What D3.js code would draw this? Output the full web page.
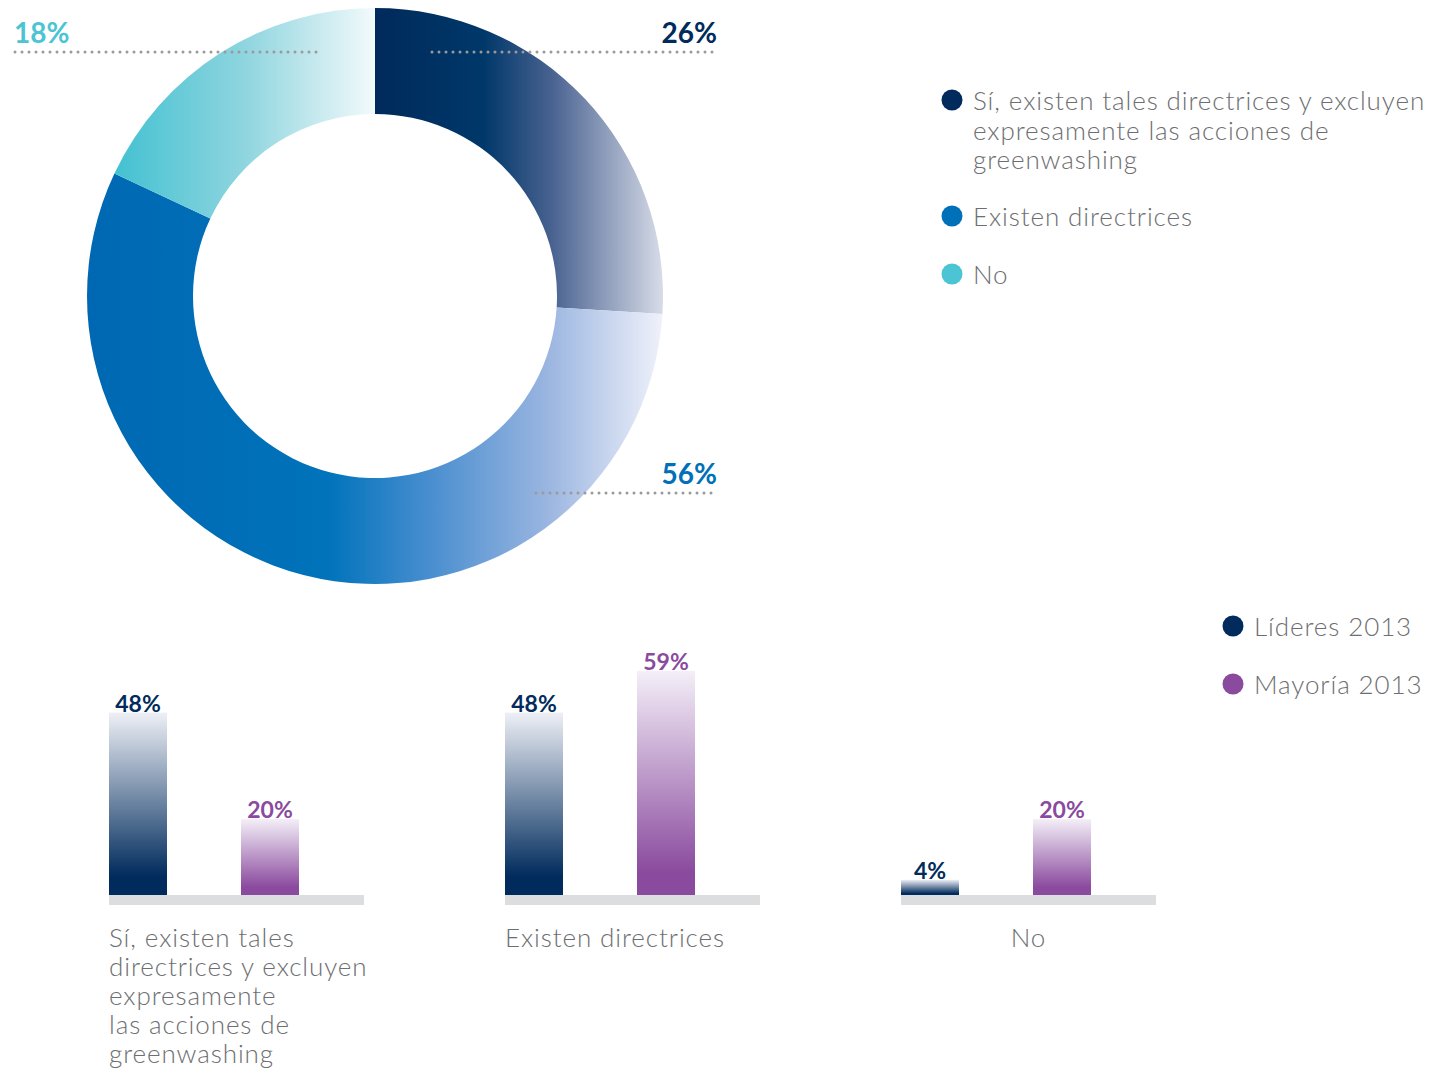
<!DOCTYPE html>
<html>
<head>
<meta charset="utf-8">
<script src="https://cdn.jsdelivr.net/npm/d3@7"></script>
<style>
  body { margin: 0; background: #fff; }
  svg { display: block; font-family: Lato, "Open Sans", sans-serif; }
</style>
</head>
<body>
<div id="chart"></div>
<script>
// donut data
const donutLabels = ["Sí, existen tales directrices y excluyen expresamente las acciones de greenwashing", "Existen directrices", "No"];
const donutLegendLines = [["Sí, existen tales directrices y excluyen", "expresamente las acciones de", "greenwashing"], ["Existen directrices"], ["No"]];
const donutValues = [26, 56, 18];

// bar data
const barCategories = ["Sí, existen tales directrices y excluyen expresamente las acciones de greenwashing", "Existen directrices", "No"];
const barCategoryLines = [["Sí, existen tales", "directrices y excluyen", "expresamente", "las acciones de", "greenwashing"], ["Existen directrices"], ["No"]];
const barSeries = ["Líderes 2013", "Mayoría 2013"];
const lideres = [48, 48, 4];
const mayoria = [20, 59, 20];

const W = 1450, H = 1071;
const grey = "#6d6e71";
const dotted = "#9a9a9a";

const svg = d3.select("#chart").append("svg")
  .attr("width", W)
  .attr("height", H);
const defs = svg.append("defs");

// ---- donut ----
const cx = 375, cy = 296, rOuter = 288, rInner = 182;

const sliceColors = ["#002b5c", "#0070b8", "#4bc4d4"];
// horizontal gradients, one per slice (x extents relative to donut centre)
const sliceGrads = [
  { id: "g0", x1: 0, x2: 287, stops: [[0, "#002a5b"], [0.38, "#00386a"], [0.62, "#4a6391"], [1, "#d6dbe7"]] },
  { id: "g1", x1: -288, x2: 287, stops: [[0, "#0068b2"], [0.42, "#0073bb"], [0.6, "#4a8fd0"], [0.8, "#9ab5e0"], [1, "#eff1fa"]] },
  { id: "g2", x1: -260, x2: 0, stops: [[0, "#43c1d1"], [0.5, "#8fd5df"], [1, "#f3fafb"]] }
];
sliceGrads.forEach(g => {
  const lg = defs.append("linearGradient")
    .attr("id", g.id)
    .attr("gradientUnits", "userSpaceOnUse")
    .attr("x1", g.x1).attr("x2", g.x2)
    .attr("y1", 0).attr("y2", 0);
  lg.selectAll("stop").data(g.stops).enter().append("stop")
    .attr("offset", d => d[0])
    .attr("stop-color", d => d[1]);
});

const pie = d3.pie().sort(null).value(d => d);
const arc = d3.arc().innerRadius(rInner).outerRadius(rOuter);

const donut = svg.append("g").attr("transform", `translate(${cx},${cy})`);
donut.selectAll("path")
  .data(pie(donutValues))
  .enter().append("path")
  .attr("d", arc)
  .attr("fill", (d, i) => `url(#${sliceGrads[i].id})`);

// percent labels with dotted leaders
const pctLabels = [
  { i: 0, x: 717, y: 43, anchor: "end", lx1: 432, lx2: 717, ly: 52 },
  { i: 1, x: 717, y: 484, anchor: "end", lx1: 536, lx2: 717, ly: 493 },
  { i: 2, x: 14, y: 43, anchor: "start", lx1: 15, lx2: 320, ly: 52 }
];
const labelColors = ["#002b5c", "#0070b8", "#4bc4d4"];
pctLabels.forEach(p => {
  svg.append("line")
    .attr("x1", p.lx1).attr("x2", p.lx2)
    .attr("y1", p.ly).attr("y2", p.ly)
    .attr("stroke", dotted)
    .attr("stroke-width", 3)
    .attr("stroke-linecap", "round")
    .attr("stroke-dasharray", "0,7");
  svg.append("text")
    .attr("x", p.x).attr("y", p.y)
    .attr("text-anchor", p.anchor)
    .attr("fill", labelColors[p.i])
    .attr("font-size", 28)
    .attr("font-weight", 700)
    .text(donutValues[p.i] + "%");
});

// donut legend
const legTop = svg.append("g");
const legY = [100, 216, 274];
donutLabels.forEach((lab, i) => {
  legTop.append("circle")
    .attr("cx", 952).attr("cy", legY[i]).attr("r", 10.5)
    .attr("fill", sliceColors[i]);
  const t = legTop.append("text")
    .attr("x", 973).attr("y", legY[i] + 10)
    .attr("fill", grey)
    .attr("font-size", 26)
    .attr("font-weight", 300)
    .attr("letter-spacing", 0.9);
  donutLegendLines[i].forEach((ln, j) => {
    t.append("tspan").attr("x", 973).attr("dy", j === 0 ? 0 : 29.5).text(ln);
  });
});

// ---- bars ----
const baseY = 895;
const groupX = d3.scaleBand()
  .domain(barCategories)
  .range([109, 1156 + 141])
  .paddingInner(0)
  .paddingOuter(0);
const groupW = 255;
const y = d3.scaleLinear().domain([0, 60]).range([baseY, baseY - 228]);

const seriesColor = { "Líderes 2013": ["#002b5c", "#eef0f6"], "Mayoría 2013": ["#8a4a9e", "#f4eff8"] };
barSeries.forEach((s, k) => {
  const lg = defs.append("linearGradient")
    .attr("id", "bg" + k)
    .attr("x1", 0).attr("x2", 0).attr("y1", 1).attr("y2", 0);
  lg.append("stop").attr("offset", 0).attr("stop-color", seriesColor[s][0]);
  lg.append("stop").attr("offset", 0.1).attr("stop-color", seriesColor[s][0]);
  lg.append("stop").attr("offset", 1).attr("stop-color", seriesColor[s][1]);
});

const inner = d3.scaleBand().domain(barSeries).range([0, 264]).paddingInner(0).paddingOuter(0);
const barW = 58;

const groups = svg.selectAll(".grp")
  .data(barCategories)
  .enter().append("g")
  .attr("class", "grp")
  .attr("transform", d => `translate(${groupX(d)},0)`);

// grey baseline strip
groups.append("rect")
  .attr("x", 0).attr("y", baseY)
  .attr("width", groupW).attr("height", 10)
  .attr("fill", "#dcdddf");

const seriesVals = [lideres, mayoria];
const labCol = ["#002b5c", "#8a4a9e"];
barSeries.forEach((s, k) => {
  groups.append("rect")
    .attr("x", inner(s))
    .attr("y", (d, i) => y(seriesVals[k][i]))
    .attr("width", barW)
    .attr("height", (d, i) => baseY - y(seriesVals[k][i]))
    .attr("fill", `url(#bg${k})`);
  groups.append("text")
    .attr("x", inner(s) + barW / 2)
    .attr("y", (d, i) => y(seriesVals[k][i]) - 1)
    .attr("text-anchor", "middle")
    .attr("fill", labCol[k])
    .attr("font-size", 23)
    .attr("font-weight", 700)
    .text((d, i) => seriesVals[k][i] + "%");
});

// category labels
groups.each(function (d, i) {
  const last = i === barCategories.length - 1;
  const t = d3.select(this).append("text")
    .attr("x", last ? groupW / 2 : 0)
    .attr("y", 947)
    .attr("text-anchor", last ? "middle" : "start")
    .attr("fill", grey)
    .attr("font-size", 26)
    .attr("font-weight", 300)
    .attr("letter-spacing", 0.9);
  barCategoryLines[i].forEach((ln, j) => {
    t.append("tspan").attr("x", last ? groupW / 2 : 0).attr("dy", j === 0 ? 0 : 29).text(ln);
  });
});

// bar legend
const legY2 = [626, 684];
barSeries.forEach((s, k) => {
  svg.append("circle")
    .attr("cx", 1233).attr("cy", legY2[k]).attr("r", 10.5)
    .attr("fill", seriesColor[s][0]);
  svg.append("text")
    .attr("x", 1254).attr("y", legY2[k] + 10)
    .attr("fill", grey)
    .attr("font-size", 26)
    .attr("font-weight", 300)
    .attr("letter-spacing", 0.9)
    .text(s);
});
</script>
</body>
</html>
